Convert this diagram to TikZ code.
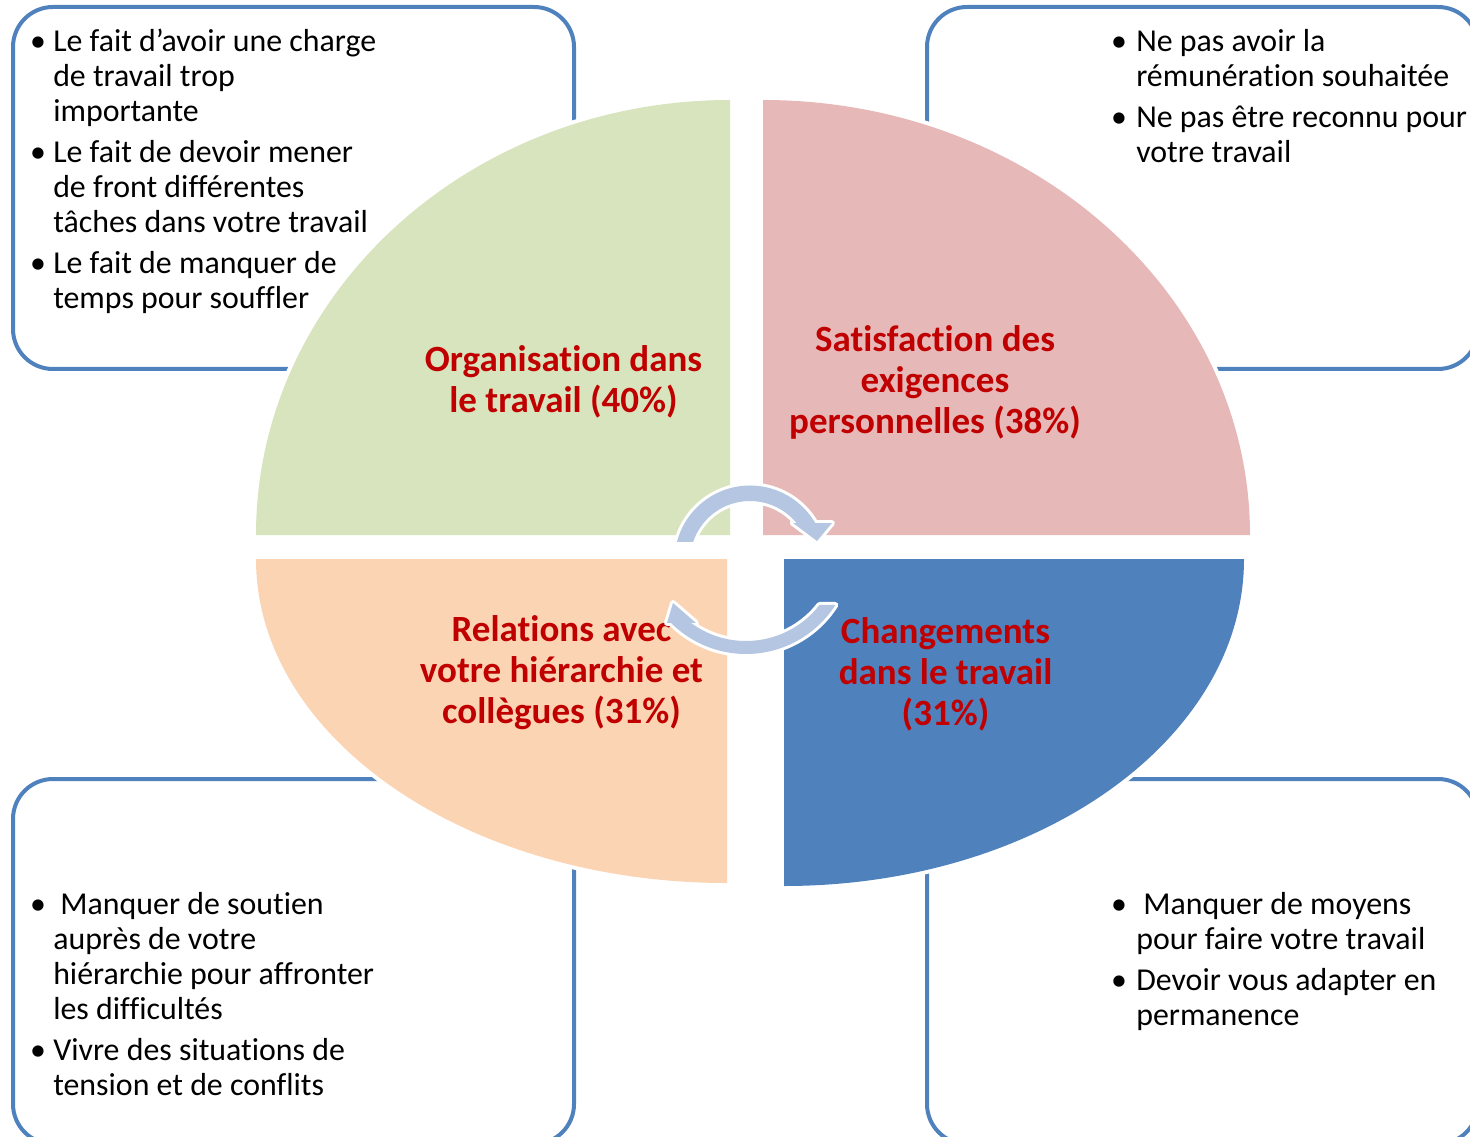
\documentclass[tikz,border=0pt]{standalone}
\usepackage{fontspec}
\setmainfont{Carlito}[Ligatures=NoCommon]
\usepackage{tikz}

\begin{document}
\begin{tikzpicture}[x=0.75pt,y=0.75pt,yscale=-1,xscale=1,
  cornerbox/.style={draw={rgb, 255:red, 79; green, 129; blue, 189 }, line width=3pt, rounded corners=30pt},
  sector/.style={preaction={draw=white, line width=6pt}},
  cyclearrow/.style={preaction={draw=white, line width=4.5pt, line join=round}, fill={rgb, 255:red, 180; green, 198; blue, 225 }},
  bullettext/.style={anchor=base west, inner sep=0pt, font=\fontsize{23.9}{26.25}\selectfont},
  bulletdot/.style={anchor=base, inner sep=0pt, font=\fontsize{23.9}{26.25}\selectfont},
  themetext/.style={anchor=base, inner sep=0pt, text={rgb, 255:red, 192; green, 0; blue, 0 }, font=\fontsize{27.75}{30.75}\selectfont\bfseries}
]
\useasboundingbox (0,0) rectangle (1470,1137);
\clip (0,0) rectangle (1470,1137);

% Rounded Rect
\draw [cornerbox] (13,7) rectangle (574,369);
% Rounded Rect
\draw [cornerbox] (927,7) rectangle (1478,369);
% Rounded Rect
\draw [cornerbox] (13,779) rectangle (574,1144);
% Rounded Rect
\draw [cornerbox] (927,779) rectangle (1478,1144);

% Sector
\fill [sector, fill={rgb, 255:red, 215; green, 228; blue, 189 }] (730,535) -- (256,535) arc [start angle=180, end angle=270, x radius=474, y radius=435] -- cycle;
% Sector
\fill [sector, fill={rgb, 255:red, 230; green, 185; blue, 184 }] (763,535) -- (763,100) arc [start angle=270, end angle=360, x radius=487, y radius=435] -- cycle;
% Sector
\fill [sector, fill={rgb, 255:red, 251; green, 212; blue, 180 }] (727,559) -- (256,559) arc [start angle=180, end angle=90, x radius=471, y radius=324] -- cycle;
% Sector
\fill [sector, fill={rgb, 255:red, 79; green, 129; blue, 189 }] (784,559) -- (1244,559) arc [start angle=0, end angle=90, x radius=460, y radius=327] -- cycle;

% Text Node
\draw (563.5,371.5) node [themetext] (orga) {\begin{tabular}[t]{@{}c@{}}Organisation dans\\le travail (40\%)\end{tabular}};
% Text Node
\draw (935,351.5) node [themetext] (satis) {\begin{tabular}[t]{@{}c@{}}Satisfaction des\\exigences\\personnelles (38\%)\end{tabular}};
% Text Node
\draw (561.5,641.5) node [themetext] (relat) {\begin{tabular}[t]{@{}c@{}}Relations avec\\votre hiérarchie et\\collègues (31\%)\end{tabular}};
% Text Node
\draw (945.5,643.5) node [themetext] (chang) {\begin{tabular}[t]{@{}c@{}}Changements\\dans le travail\\(31\%)\end{tabular}};

% Circular Arrow
\coordinate (hubtop) at (750,561);
\coordinate (hubbot) at (746,548);
\fill [cyclearrow] ([shift={(194.6:75.5)}]hubtop) arc [start angle=194.6, end angle=329.8, radius=75.5] -- (832,523) -- (817,541) -- (793,523) -- ([shift={(320.7:60)}]hubtop) arc [start angle=320.7, end angle=198.5, radius=60] -- cycle;
% Circular Arrow
\fill [cyclearrow] ([shift={(32.5:106)}]hubbot) arc [start angle=32.5, end angle=135, radius=106] -- (667,623) -- (673,603) -- (696,623) -- ([shift={(126.3:93)}]hubbot) arc [start angle=126.3, end angle=37.8, radius=93] -- cycle;

% Text Node
\draw (38,51.5) node [bulletdot] (tldot1) {•};
\draw (53,51.5) node [bullettext] (tlitem1) {\begin{tabular}[t]{@{}l@{}}Le fait d’avoir une charge\\de travail trop\\importante\end{tabular}};
% Text Node
\draw (38,162.5) node [bulletdot] (tldot2) {•};
\draw (53,162.5) node [bullettext] (tlitem2) {\begin{tabular}[t]{@{}l@{}}Le fait de devoir mener\\de front différentes\\tâches dans votre travail\end{tabular}};
% Text Node
\draw (38,273.5) node [bulletdot] (tldot3) {•};
\draw (53,273.5) node [bullettext] (tlitem3) {\begin{tabular}[t]{@{}l@{}}Le fait de manquer de\\temps pour souffler\end{tabular}};

% Text Node
\draw (1119,51.5) node [bulletdot] (trdot1) {•};
\draw (1136,51.5) node [bullettext] (tritem1) {\begin{tabular}[t]{@{}l@{}}Ne pas avoir la\\rémunération souhaitée\end{tabular}};
% Text Node
\draw (1119,127.5) node [bulletdot] (trdot2) {•};
\draw (1136,127.5) node [bullettext] (tritem2) {\begin{tabular}[t]{@{}l@{}}Ne pas être reconnu pour\\votre travail\end{tabular}};

% Text Node
\draw (38,914) node [bulletdot] (bldot1) {•};
\draw (53,914) node [bullettext] (blitem1) {\begin{tabular}[t]{@{}l@{}}\ Manquer de soutien\\auprès de votre\\hiérarchie pour affronter\\les difficultés\end{tabular}};
% Text Node
\draw (38,1060) node [bulletdot] (bldot2) {•};
\draw (53,1060) node [bullettext] (blitem2) {\begin{tabular}[t]{@{}l@{}}Vivre des situations de\\tension et de conflits\end{tabular}};

% Text Node
\draw (1119,914) node [bulletdot] (brdot1) {•};
\draw (1136,914) node [bullettext] (britem1) {\begin{tabular}[t]{@{}l@{}}\ Manquer de moyens\\pour faire votre travail\end{tabular}};
% Text Node
\draw (1119,990) node [bulletdot] (brdot2) {•};
\draw (1136,990) node [bullettext] (britem2) {\begin{tabular}[t]{@{}l@{}}Devoir vous adapter en\\permanence\end{tabular}};

\end{tikzpicture}
\end{document}
